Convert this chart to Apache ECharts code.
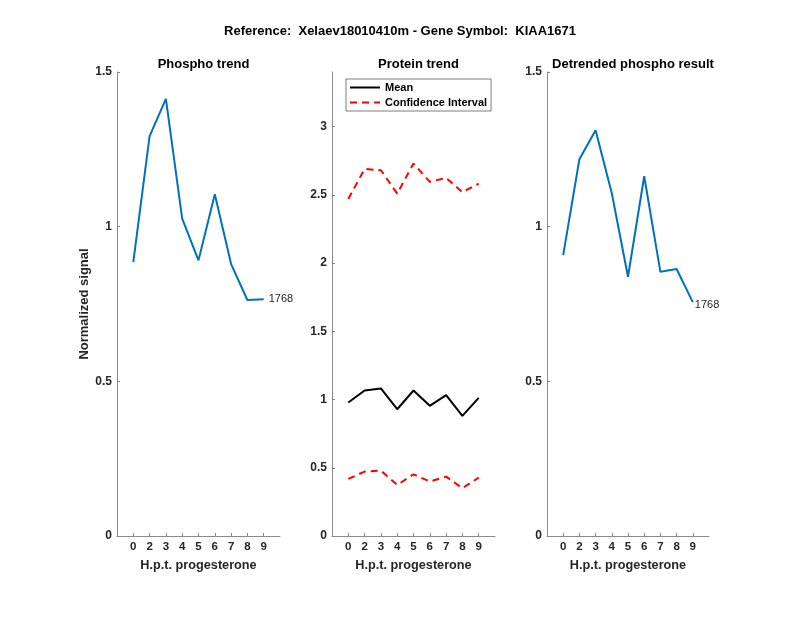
<!DOCTYPE html>
<html>
<head>
<meta charset="utf-8">
<script src="https://cdn.jsdelivr.net/npm/echarts@6/dist/echarts.min.js"></script>
<style>html,body{margin:0;padding:0;background:#fff}#c{width:800px;height:618px}</style>
</head>
<body>
<div id="c"></div>
<script>
// ---- data ----
const mainTitle = 'Reference:  Xelaev18010410m - Gene Symbol:  KIAA1671';
const panelTitles = ['Phospho trend', 'Protein trend', 'Detrended phospho result'];
const xTickLabels = ['0', '2', '3', '4', '5', '6', '7', '8', '9'];
const phosphoTrend = [0.885, 1.293, 1.413, 1.026, 0.891, 1.105, 0.879, 0.763, 0.765];
const proteinMean = [0.978, 1.066, 1.081, 0.929, 1.066, 0.954, 1.032, 0.880, 1.012];
const ciUpper = [2.470, 2.690, 2.680, 2.509, 2.729, 2.595, 2.624, 2.519, 2.582];
const ciLower = [0.418, 0.472, 0.479, 0.374, 0.452, 0.399, 0.435, 0.350, 0.428];
const detrended = [0.908, 1.218, 1.312, 1.108, 0.838, 1.163, 0.854, 0.863, 0.756];
const peptideLabel = '1768';
const yTicks13 = [0, 0.5, 1, 1.5];
const yTicks2 = [0, 0.5, 1, 1.5, 2, 2.5, 3];

// ---- build ----
const FONT = "'Liberation Sans', Arial, Helvetica, sans-serif";
const xPos = xTickLabels.map((_, i) => i + 1);
const toPairs = arr => arr.map((v, i) => [xPos[i], v]);
const AX = '#8a8a8a';
const TXT = '#262626';

const grids = [
  { left: 117, top: 72, width: 163, height: 464 },
  { left: 332, top: 72, width: 163, height: 464 },
  { left: 547, top: 72, width: 162, height: 464 }
];

function xAxis(gi) {
  return {
    type: 'value', gridIndex: gi, min: 0, max: 10,
    name: 'H.p.t. progesterone', nameLocation: 'middle', nameGap: 23,
    nameTextStyle: { fontFamily: FONT, fontWeight: 'bold', fontSize: 12.7, color: TXT },
    axisLine: { show: true, lineStyle: { color: AX, width: 1 } },
    axisTick: { show: true, inside: true, length: 3, customValues: xPos, lineStyle: { color: AX } },
    axisLabel: {
      customValues: xPos, margin: 5,
      fontFamily: FONT, fontWeight: 'bold', fontSize: 11.5, color: TXT,
      formatter: v => xTickLabels[xPos.indexOf(v)] ?? ''
    },
    splitLine: { show: false }
  };
}
function yAxis(gi, max, ticks, named) {
  return {
    type: 'value', gridIndex: gi, min: 0, max: max,
    name: named ? 'Normalized signal' : '', nameLocation: 'middle', nameGap: 25,
    nameTextStyle: { fontFamily: FONT, fontWeight: 'bold', fontSize: 13, color: TXT },
    axisLine: { show: true, lineStyle: { color: AX, width: 1 } },
    axisTick: { show: true, inside: true, length: 3, customValues: ticks, lineStyle: { color: AX } },
    axisLabel: {
      customValues: ticks, margin: 5,
      fontFamily: FONT, fontWeight: 'bold', fontSize: 12, color: TXT
    },
    splitLine: { show: false }
  };
}

const endLbl = (dist, dy) => ({
  show: true, formatter: peptideLabel, distance: dist, offset: [0, dy],
  fontFamily: FONT, fontSize: 11, color: TXT
});

const option = {
  animation: false,
  backgroundColor: '#fff',
  title: [
    { text: mainTitle, left: 'center', top: 20, textStyle: { fontFamily: FONT, fontWeight: 'bold', fontSize: 13, color: '#000' } },
    ...panelTitles.map((t, i) => ({
      text: t, left: grids[i].left + grids[i].width / 2, top: 53, textAlign: 'center',
      textStyle: { fontFamily: FONT, fontWeight: 'bold', fontSize: 13, color: '#000' }
    }))
  ],
  legend: {
    left: 346, top: 79, orient: 'vertical',
    data: ['Mean', 'Confidence Interval'],
    backgroundColor: '#fff', borderColor: '#262626', borderWidth: 0.6,
    padding: [3, 4, 3, 3], itemGap: 4, itemWidth: 30, itemHeight: 12,
    itemStyle: { color: 'rgba(0,0,0,0)', borderWidth: 0, opacity: 0 },
    textStyle: { fontFamily: FONT, fontWeight: 'bold', fontSize: 11, color: '#000' }
  },
  grid: grids,
  xAxis: [xAxis(0), xAxis(1), xAxis(2)],
  yAxis: [yAxis(0, 1.5, yTicks13, true), yAxis(1, 3.4, yTicks2, false), yAxis(2, 1.5, yTicks13, false)],
  series: [
    { type: 'line', xAxisIndex: 0, yAxisIndex: 0, data: toPairs(phosphoTrend), symbol: 'none',
      lineStyle: { color: '#0072BD', width: 2 }, itemStyle: { color: '#0072BD' }, endLabel: endLbl(5, 0) },
    { name: 'Mean', type: 'line', xAxisIndex: 1, yAxisIndex: 1, data: toPairs(proteinMean), symbol: 'none',
      lineStyle: { color: '#000', width: 2 }, itemStyle: { color: '#000' } },
    { name: 'Confidence Interval', type: 'line', xAxisIndex: 1, yAxisIndex: 1, data: toPairs(ciUpper), symbol: 'none',
      lineStyle: { color: '#ff0000', width: 2, type: [7, 5] }, itemStyle: { color: '#ff0000' } },
    { name: 'Confidence Interval', type: 'line', xAxisIndex: 1, yAxisIndex: 1, data: toPairs(ciLower), symbol: 'none',
      lineStyle: { color: '#ff0000', width: 2, type: [7, 5] }, itemStyle: { color: '#ff0000' } },
    { type: 'line', xAxisIndex: 2, yAxisIndex: 2, data: toPairs(detrended), symbol: 'none',
      lineStyle: { color: '#0072BD', width: 2 }, itemStyle: { color: '#0072BD' }, endLabel: endLbl(2, 3) }
  ]
};

const chart = echarts.init(document.getElementById('c'), null, { renderer: 'canvas' });
chart.setOption(option);
</script>
</body>
</html>
